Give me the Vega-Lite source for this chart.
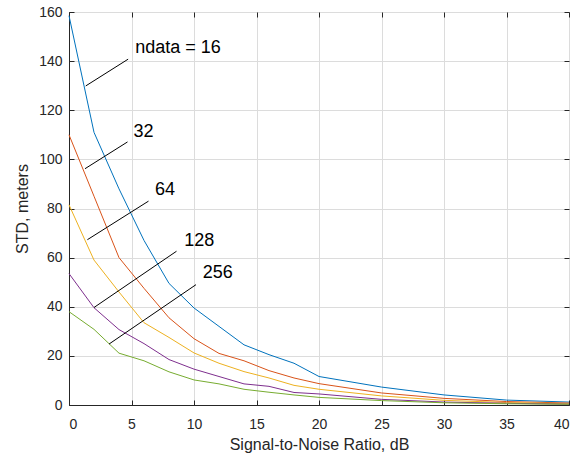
{
  "$schema": "https://vega.github.io/schema/vega-lite/v6.json",
  "width": 500,
  "height": 393,
  "autosize": {"type": "none"},
  "padding": {"left": 69, "top": 12, "right": 13, "bottom": 57},
  "background": "white",
  "config": {
    "font": "Liberation Sans",
    "view": {"stroke": "#262626", "strokeWidth": 1},
    "axis": {
      "labelFont": "Liberation Sans",
      "titleFont": "Liberation Sans",
      "labelFontSize": 14,
      "titleFontSize": 16,
      "titleFontWeight": "normal",
      "labelColor": "#262626",
      "titleColor": "#262626",
      "domainColor": "#262626",
      "tickColor": "#262626",
      "gridColor": "#dcdcdc",
      "gridWidth": 1,
      "tickSize": -5,
      "labelPadding": 8
    }
  },
  "datasets": {
    "lines": [
      {"snr": 0, "std": 158.5, "ndata": "16"},
      {"snr": 2, "std": 111, "ndata": "16"},
      {"snr": 4, "std": 88, "ndata": "16"},
      {"snr": 6, "std": 67, "ndata": "16"},
      {"snr": 8, "std": 49.5, "ndata": "16"},
      {"snr": 10, "std": 39.5, "ndata": "16"},
      {"snr": 12, "std": 32, "ndata": "16"},
      {"snr": 14, "std": 24.5, "ndata": "16"},
      {"snr": 16, "std": 20.5, "ndata": "16"},
      {"snr": 18, "std": 17, "ndata": "16"},
      {"snr": 20, "std": 11.6, "ndata": "16"},
      {"snr": 25, "std": 7.3, "ndata": "16"},
      {"snr": 30, "std": 4.1, "ndata": "16"},
      {"snr": 35, "std": 2, "ndata": "16"},
      {"snr": 40, "std": 1.2, "ndata": "16"},
      {"snr": 0, "std": 110, "ndata": "32"},
      {"snr": 2, "std": 85, "ndata": "32"},
      {"snr": 4, "std": 60, "ndata": "32"},
      {"snr": 6, "std": 47.5, "ndata": "32"},
      {"snr": 8, "std": 35.5, "ndata": "32"},
      {"snr": 10, "std": 27, "ndata": "32"},
      {"snr": 12, "std": 21, "ndata": "32"},
      {"snr": 14, "std": 18, "ndata": "32"},
      {"snr": 16, "std": 14, "ndata": "32"},
      {"snr": 18, "std": 11, "ndata": "32"},
      {"snr": 20, "std": 8.7, "ndata": "32"},
      {"snr": 25, "std": 4.9, "ndata": "32"},
      {"snr": 30, "std": 2.7, "ndata": "32"},
      {"snr": 35, "std": 1.4, "ndata": "32"},
      {"snr": 40, "std": 0.8, "ndata": "32"},
      {"snr": 0, "std": 81.5, "ndata": "64"},
      {"snr": 2, "std": 59, "ndata": "64"},
      {"snr": 4, "std": 46, "ndata": "64"},
      {"snr": 6, "std": 33.5, "ndata": "64"},
      {"snr": 8, "std": 27.5, "ndata": "64"},
      {"snr": 10, "std": 21.2, "ndata": "64"},
      {"snr": 12, "std": 17, "ndata": "64"},
      {"snr": 14, "std": 13.6, "ndata": "64"},
      {"snr": 16, "std": 11, "ndata": "64"},
      {"snr": 18, "std": 8, "ndata": "64"},
      {"snr": 20, "std": 6.4, "ndata": "64"},
      {"snr": 25, "std": 3.7, "ndata": "64"},
      {"snr": 30, "std": 1.9, "ndata": "64"},
      {"snr": 35, "std": 1, "ndata": "64"},
      {"snr": 40, "std": 0.5, "ndata": "64"},
      {"snr": 0, "std": 53.5, "ndata": "128"},
      {"snr": 2, "std": 39.6, "ndata": "128"},
      {"snr": 4, "std": 30.7, "ndata": "128"},
      {"snr": 6, "std": 25, "ndata": "128"},
      {"snr": 8, "std": 18.5, "ndata": "128"},
      {"snr": 10, "std": 14.6, "ndata": "128"},
      {"snr": 12, "std": 11.6, "ndata": "128"},
      {"snr": 14, "std": 8.6, "ndata": "128"},
      {"snr": 16, "std": 7.6, "ndata": "128"},
      {"snr": 18, "std": 5.1, "ndata": "128"},
      {"snr": 20, "std": 4.5, "ndata": "128"},
      {"snr": 25, "std": 2.3, "ndata": "128"},
      {"snr": 30, "std": 1.2, "ndata": "128"},
      {"snr": 35, "std": 0.7, "ndata": "128"},
      {"snr": 40, "std": 0.3, "ndata": "128"},
      {"snr": 0, "std": 38, "ndata": "256"},
      {"snr": 2, "std": 30.8, "ndata": "256"},
      {"snr": 4, "std": 21.1, "ndata": "256"},
      {"snr": 6, "std": 18, "ndata": "256"},
      {"snr": 8, "std": 13.5, "ndata": "256"},
      {"snr": 10, "std": 10.2, "ndata": "256"},
      {"snr": 12, "std": 8.6, "ndata": "256"},
      {"snr": 14, "std": 6.4, "ndata": "256"},
      {"snr": 16, "std": 5.2, "ndata": "256"},
      {"snr": 18, "std": 4.1, "ndata": "256"},
      {"snr": 20, "std": 3.1, "ndata": "256"},
      {"snr": 25, "std": 1.8, "ndata": "256"},
      {"snr": 30, "std": 0.9, "ndata": "256"},
      {"snr": 35, "std": 0.5, "ndata": "256"},
      {"snr": 40, "std": 0.3, "ndata": "256"}
    ],
    "ann": [
      {"x": 1.34, "y": 129.9, "x2": 4.73, "y2": 140.8, "tx": 5.3, "ty": 145.3, "label": "ndata = 16"},
      {"x": 1.28, "y": 96.2, "x2": 4.68, "y2": 107.1, "tx": 5.16, "ty": 111.2, "label": "32"},
      {"x": 1.47, "y": 67.3, "x2": 6.36, "y2": 83, "tx": 6.87, "ty": 87.4, "label": "64"},
      {"x": 2.0, "y": 39.7, "x2": 8.6, "y2": 62.6, "tx": 9.22, "ty": 66.7, "label": "128"},
      {"x": 3.2, "y": 24.8, "x2": 10.16, "y2": 49, "tx": 10.7, "ty": 53.6, "label": "256"}
    ]
  },
  "layer": [
    {
      "data": {"name": "lines"},
      "mark": {"type": "line", "strokeWidth": 1},
      "encoding": {
        "x": {
          "field": "snr",
          "type": "quantitative",
          "scale": {"domain": [0, 40], "nice": false, "zero": false},
          "axis": {"title": "Signal-to-Noise Ratio, dB", "values": [0, 5, 10, 15, 20, 25, 30, 35, 40], "grid": true, "labelPadding": 17, "titlePadding": 5}
        },
        "y": {
          "field": "std",
          "type": "quantitative",
          "scale": {"domain": [0, 160], "nice": false},
          "axis": {"title": "STD, meters", "values": [0, 20, 40, 60, 80, 100, 120, 140, 160], "grid": true, "labelPadding": 12, "titlePadding": 8}
        },
        "color": {
          "field": "ndata",
          "type": "nominal",
          "scale": {"domain": ["16", "32", "64", "128", "256"], "range": ["#0072BD", "#D95319", "#EDB120", "#7E2F8E", "#77AC30"]},
          "legend": null
        }
      }
    },
    {
      "data": {"name": "ann"},
      "mark": {"type": "rule", "color": "black", "strokeWidth": 1},
      "encoding": {
        "x": {"field": "x", "type": "quantitative", "axis": null},
        "y": {"field": "y", "type": "quantitative", "axis": null},
        "x2": {"field": "x2"},
        "y2": {"field": "y2"}
      }
    },
    {
      "data": {"name": "ann"},
      "mark": {"type": "text", "align": "left", "baseline": "middle", "fontSize": 18, "color": "black", "font": "Liberation Sans"},
      "encoding": {
        "x": {"field": "tx", "type": "quantitative", "axis": {"orient": "top", "labels": false, "grid": false, "title": null, "domain": false, "values": [0, 5, 10, 15, 20, 25, 30, 35, 40]}},
        "y": {"field": "ty", "type": "quantitative", "axis": {"orient": "right", "labels": false, "grid": false, "title": null, "domain": false, "values": [0, 20, 40, 60, 80, 100, 120, 140, 160]}},
        "text": {"field": "label"}
      }
    }
  ],
  "resolve": {"axis": {"x": "independent", "y": "independent"}}
}
